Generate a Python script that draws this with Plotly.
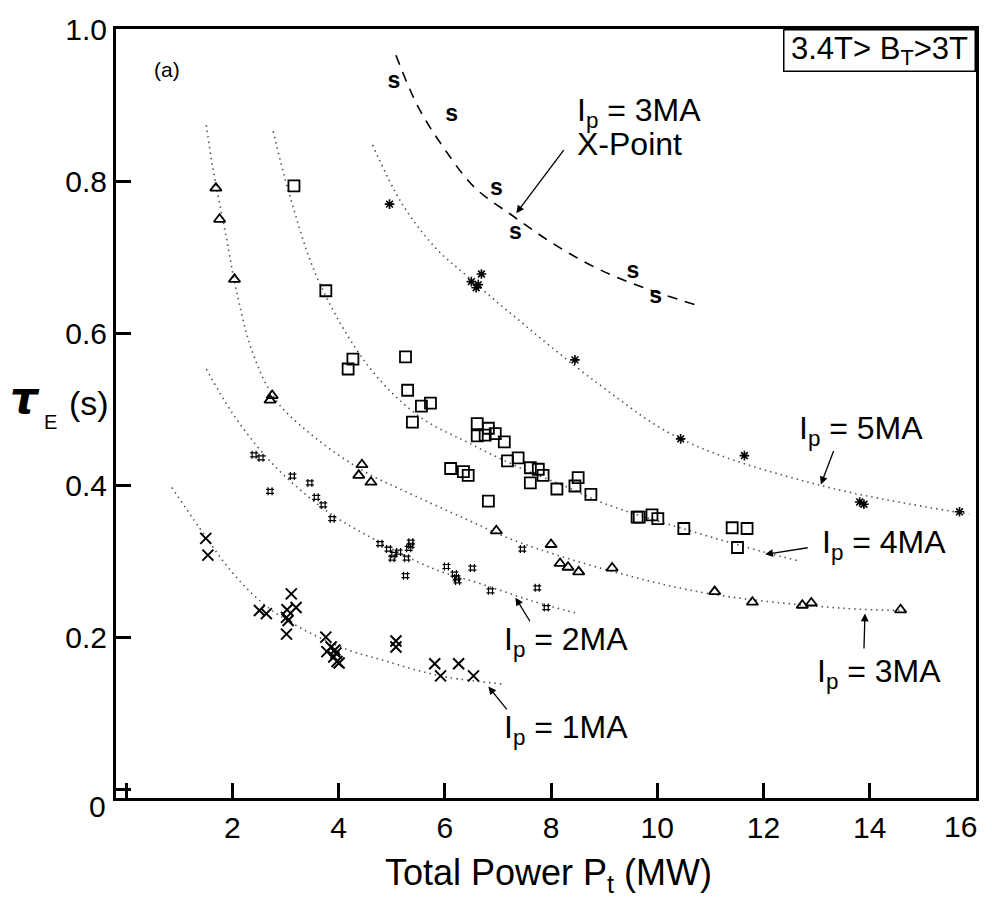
import plotly.graph_objects as go

# ---------------- data ----------------
# Ip = 3MA X-point ("s" symbols)
s_x = [5.04, 6.13, 6.97, 7.33, 9.54, 9.97]
s_y = [0.930, 0.887, 0.790, 0.732, 0.680, 0.648]

# Ip = 5MA (asterisks)
star_x = [4.96, 6.50, 6.59, 6.63, 6.69, 8.45, 10.44, 11.64, 13.81, 13.89, 15.69]
star_y = [0.770, 0.668, 0.660, 0.664, 0.678, 0.565, 0.461, 0.439, 0.378, 0.375, 0.365]

# Ip = 4MA (squares)
sq_x = [3.16, 3.76, 4.18, 4.27, 5.26, 5.30, 5.39, 5.56, 5.73, 6.11,
        6.35, 6.44, 6.61, 6.61, 6.76, 6.82, 6.82, 6.95, 7.12, 7.18,
        7.38, 7.61, 7.61, 7.76, 7.85, 8.11, 8.45, 8.51, 8.75, 9.62,
        9.66, 9.90, 10.01, 10.50, 11.41, 11.51, 11.69]
sq_y = [0.794, 0.656, 0.553, 0.566, 0.569, 0.525, 0.483, 0.504, 0.508, 0.422,
        0.418, 0.413, 0.481, 0.465, 0.466, 0.475, 0.379, 0.468, 0.457, 0.432,
        0.436, 0.423, 0.403, 0.421, 0.413, 0.395, 0.399, 0.410, 0.388, 0.358,
        0.358, 0.361, 0.356, 0.343, 0.344, 0.318, 0.343]

# Ip = 3MA (triangles)
tri_x = [1.69, 1.76, 2.04, 2.71, 2.75, 4.38, 4.44, 4.61, 6.97, 8.00,
         8.17, 8.32, 8.52, 9.15, 11.08, 11.79, 12.73, 12.90, 14.58]
tri_y = [0.791, 0.750, 0.671, 0.512, 0.518, 0.413, 0.427, 0.404, 0.340, 0.322,
         0.297, 0.292, 0.286, 0.291, 0.260, 0.246, 0.242, 0.245, 0.236]

# Ip = 2MA (hash marks)
hash_x = [2.41, 2.54, 2.71, 3.13, 3.46, 3.58, 3.71, 3.88, 4.78, 4.94,
          5.01, 5.04, 5.13, 5.26, 5.28, 5.32, 5.36, 5.36, 6.03, 6.18,
          6.22, 6.24, 6.52, 6.86, 7.46, 7.74, 7.91]
hash_y = [0.440, 0.436, 0.392, 0.412, 0.403, 0.384, 0.374, 0.356, 0.323, 0.316,
          0.304, 0.309, 0.312, 0.281, 0.304, 0.317, 0.325, 0.321, 0.293, 0.283,
          0.278, 0.274, 0.291, 0.261, 0.316, 0.265, 0.239]

# Ip = 1MA (crosses)
x1_x = [1.50, 1.54, 2.51, 2.64, 3.02, 3.02, 3.03, 3.05, 3.11, 3.20,
        3.76, 3.78, 3.86, 3.91, 3.93, 3.95, 3.97, 4.01, 5.08, 5.08,
        5.81, 5.92, 6.26, 6.54]
x1_y = [0.330, 0.308, 0.235, 0.231, 0.226, 0.204, 0.236, 0.222, 0.257, 0.239,
        0.200, 0.181, 0.187, 0.174, 0.183, 0.179, 0.168, 0.166, 0.195, 0.187,
        0.165, 0.149, 0.165, 0.149]

# fitted curves
fitxp_x = [5.08, 5.49, 5.98, 6.56, 7.27, 8.04, 8.85, 9.74, 10.70]
fitxp_y = [0.966, 0.899, 0.844, 0.792, 0.755, 0.718, 0.686, 0.660, 0.638]

fit5_x = [4.64, 5.19, 5.83, 6.44, 7.19, 8.88, 10.44, 13.06, 15.87]
fit5_y = [0.848, 0.771, 0.712, 0.674, 0.629, 0.534, 0.461, 0.400, 0.362]

fit4_x = [2.77, 3.07, 3.63, 4.57, 5.51, 6.44, 7.38, 8.32, 9.00, 10.76, 12.01, 12.63]
fit4_y = [0.866, 0.784, 0.668, 0.556, 0.491, 0.456, 0.424, 0.397, 0.376, 0.337, 0.312, 0.301]

fit3_x = [1.51, 1.63, 1.89, 2.08, 2.38, 2.82, 3.57, 4.51, 5.13, 6.38, 7.32, 9.13, 11.00, 13.51, 14.70]
fit3_y = [0.874, 0.819, 0.725, 0.655, 0.575, 0.512, 0.462, 0.417, 0.396, 0.356, 0.327, 0.287, 0.257, 0.238, 0.235]

fit2_x = [1.51, 2.00, 2.64, 3.26, 3.88, 4.51, 5.75, 6.69, 7.63, 8.45]
fit2_y = [0.553, 0.495, 0.437, 0.395, 0.361, 0.335, 0.291, 0.270, 0.248, 0.232]

fit1_x = [0.86, 1.39, 2.00, 2.60, 3.26, 4.19, 4.82, 5.45, 6.07, 7.14]
fit1_y = [0.397, 0.343, 0.285, 0.243, 0.213, 0.183, 0.170, 0.157, 0.147, 0.138]

x_tick_vals = [0, 2, 4, 6, 8, 10, 12, 14, 16]
x_tick_text = ["", "2", "4", "6", "8", "10", "12", "14", ""]
y_tick_vals = [0, 0.2, 0.4, 0.6, 0.8, 1.0]
y_tick_text = ["", "0.2", "0.4", "0.6", "0.8", "1.0"]

# ---------------- figure ----------------
FONT = "Liberation Sans, Arial, Helvetica, sans-serif"
OFF = 8                      # page body margin
W, H = 992 - 2 * OFF, 905 - 2 * OFF
ML, MT = 116 - OFF, 19 - OFF
MR = W - (979 - OFF)
MB = H - (798 - OFF)
PW, PH = W - ML - MR, H - MT - MB


def sx(p):
    """screen pixel x -> paper x"""
    return (p - OFF - ML) / PW


def sy(p):
    """screen pixel y -> paper y"""
    return (H - MB - (p - OFF)) / PH


fig = go.Figure()

dot_line = dict(color="#555555", width=1.6, dash="1.5px,4px")
for fx, fy in [(fit5_x, fit5_y), (fit4_x, fit4_y), (fit3_x, fit3_y),
               (fit2_x, fit2_y), (fit1_x, fit1_y)]:
    fig.add_trace(go.Scatter(x=fx, y=fy, mode="lines", line=dict(shape="spline", **dot_line),
                             hoverinfo="skip", showlegend=False))

fig.add_trace(go.Scatter(x=fitxp_x, y=fitxp_y, mode="lines",
                         line=dict(color="black", width=1.6, dash="10px,8px", shape="spline"),
                         showlegend=False))

fig.add_trace(go.Scatter(x=s_x, y=s_y, mode="text", text=["s"] * len(s_x),
                         textfont=dict(family=FONT, size=23, color="black", weight="bold"),
                         showlegend=False))
fig.add_trace(go.Scatter(x=star_x, y=star_y, mode="markers",
                         marker=dict(symbol="asterisk-open", size=8, color="black",
                                     line=dict(color="black", width=1.6)),
                         showlegend=False))
fig.add_trace(go.Scatter(x=sq_x, y=sq_y, mode="markers",
                         marker=dict(symbol="square-open", size=11, color="black",
                                     line=dict(color="black", width=1.8)),
                         showlegend=False))
fig.add_trace(go.Scatter(x=tri_x, y=tri_y, mode="markers",
                         marker=dict(symbol="triangle-up-open", size=10, color="black",
                                     line=dict(color="black", width=1.8)),
                         showlegend=False))
fig.add_trace(go.Scatter(x=hash_x, y=hash_y, mode="markers",
                         marker=dict(symbol="hash-open", size=8, color="black",
                                     line=dict(color="black", width=1.2)),
                         showlegend=False))
fig.add_trace(go.Scatter(x=x1_x, y=x1_y, mode="markers",
                         marker=dict(symbol="x-thin-open", size=11, color="black",
                                     line=dict(color="black", width=2)),
                         showlegend=False))

annotations = []

# arrows (tail -> tip) in data coordinates
arrows = [((8.26, 0.843), (7.345, 0.758)),
          ((13.33, 0.447), (13.08, 0.401)),
          ((12.86, 0.318), (12.03, 0.309)),
          ((7.62, 0.219), (7.33, 0.252)),
          ((13.89, 0.183), (13.91, 0.231)),
          ((7.19, 0.103), (6.82, 0.135))]
for (tx, ty), (hx, hy) in arrows:
    annotations.append(dict(x=hx, y=hy, ax=tx, ay=ty, xref="x", yref="y", axref="x", ayref="y",
                            text="", showarrow=True, arrowhead=2, arrowsize=1.2, arrowwidth=1.3,
                            arrowcolor="black", standoff=0, startstandoff=0))

lab_font = dict(family=FONT, size=32, color="black")
labels = [("I<sub>p</sub> = 3MA", 577, 104),
          ("X-Point", 577, 135),
          ("I<sub>p</sub> = 5MA", 799, 426),
          ("I<sub>p</sub> = 4MA", 822, 541),
          ("I<sub>p</sub> = 2MA", 503, 639),
          ("I<sub>p</sub> = 3MA", 817, 672),
          ("I<sub>p</sub> = 1MA", 503, 729)]
for t, lx, ly in labels:
    annotations.append(dict(text=t, x=sx(lx), y=sy(ly), xref="paper", yref="paper",
                            xanchor="left", yanchor="middle", showarrow=False, font=lab_font))

annotations.append(dict(text="(a)", x=sx(167), y=sy(60), xref="paper", yref="paper",
                        xanchor="center", yanchor="middle", showarrow=False,
                        font=dict(family=FONT, size=21, color="black")))

annotations.append(dict(text="3.4T&gt; B<sub>T</sub>&gt;3T", x=1.0, y=1.0, xref="paper", yref="paper",
                        xanchor="right", yanchor="top", showarrow=False,
                        width=188, height=38, borderpad=1, borderwidth=1.5, bordercolor="black",
                        bgcolor="white", font=dict(family=FONT, size=31, color="black")))

annotations.append(dict(text="0", x=sx(97), y=sy(807), xref="paper", yref="paper",
                        xanchor="center", yanchor="middle", showarrow=False,
                        font=dict(family=FONT, size=30, color="black")))
annotations.append(dict(text="16", x=sx(982), y=sy(827), xref="paper", yref="paper",
                        xanchor="right", yanchor="middle", showarrow=False,
                        font=dict(family=FONT, size=30, color="black")))

annotations.append(dict(text="Total Power P<sub>t</sub> (MW)", x=sx(550), y=sy(901),
                        xref="paper", yref="paper", xanchor="center", yanchor="bottom",
                        showarrow=False, font=dict(family=FONT, size=36, color="black")))

annotations.append(dict(text="<b><i>τ</i></b>", x=sx(25), y=sy(392), xref="paper", yref="paper",
                        xanchor="center", yanchor="middle", showarrow=False,
                        font=dict(family="DejaVu Sans, " + FONT, size=44, color="black")))
annotations.append(dict(text="E", x=sx(50), y=sy(417), xref="paper", yref="paper",
                        xanchor="center", yanchor="middle", showarrow=False,
                        font=dict(family=FONT, size=20, color="black")))
annotations.append(dict(text="(s)", x=sx(89), y=sy(398), xref="paper", yref="paper",
                        xanchor="center", yanchor="middle", showarrow=False,
                        font=dict(family=FONT, size=34, color="black")))

fig.update_layout(
    width=W, height=H,
    margin=dict(l=ML, r=MR, t=MT, b=MB, pad=0),
    paper_bgcolor="white", plot_bgcolor="white",
    showlegend=False,
    annotations=annotations,
    xaxis=dict(range=[-0.19, 16.0], tickvals=x_tick_vals, ticktext=x_tick_text,
               ticks="inside", ticklen=15, tickwidth=2.5, tickcolor="black",
               showline=True, linewidth=3, linecolor="black", mirror=True,
               showgrid=False, zeroline=False, ticklabelstandoff=1,
               tickfont=dict(family=FONT, size=30, color="black")),
    yaxis=dict(range=[-0.0117, 1.0005], tickvals=y_tick_vals, ticktext=y_tick_text,
               ticks="inside", ticklen=15, tickwidth=2.5, tickcolor="black",
               showline=True, linewidth=3, linecolor="black", mirror=True,
               showgrid=False, zeroline=False, ticklabeloverflow="allow",
               tickfont=dict(family=FONT, size=30, color="black")),
)

fig.write_html("out.html")
